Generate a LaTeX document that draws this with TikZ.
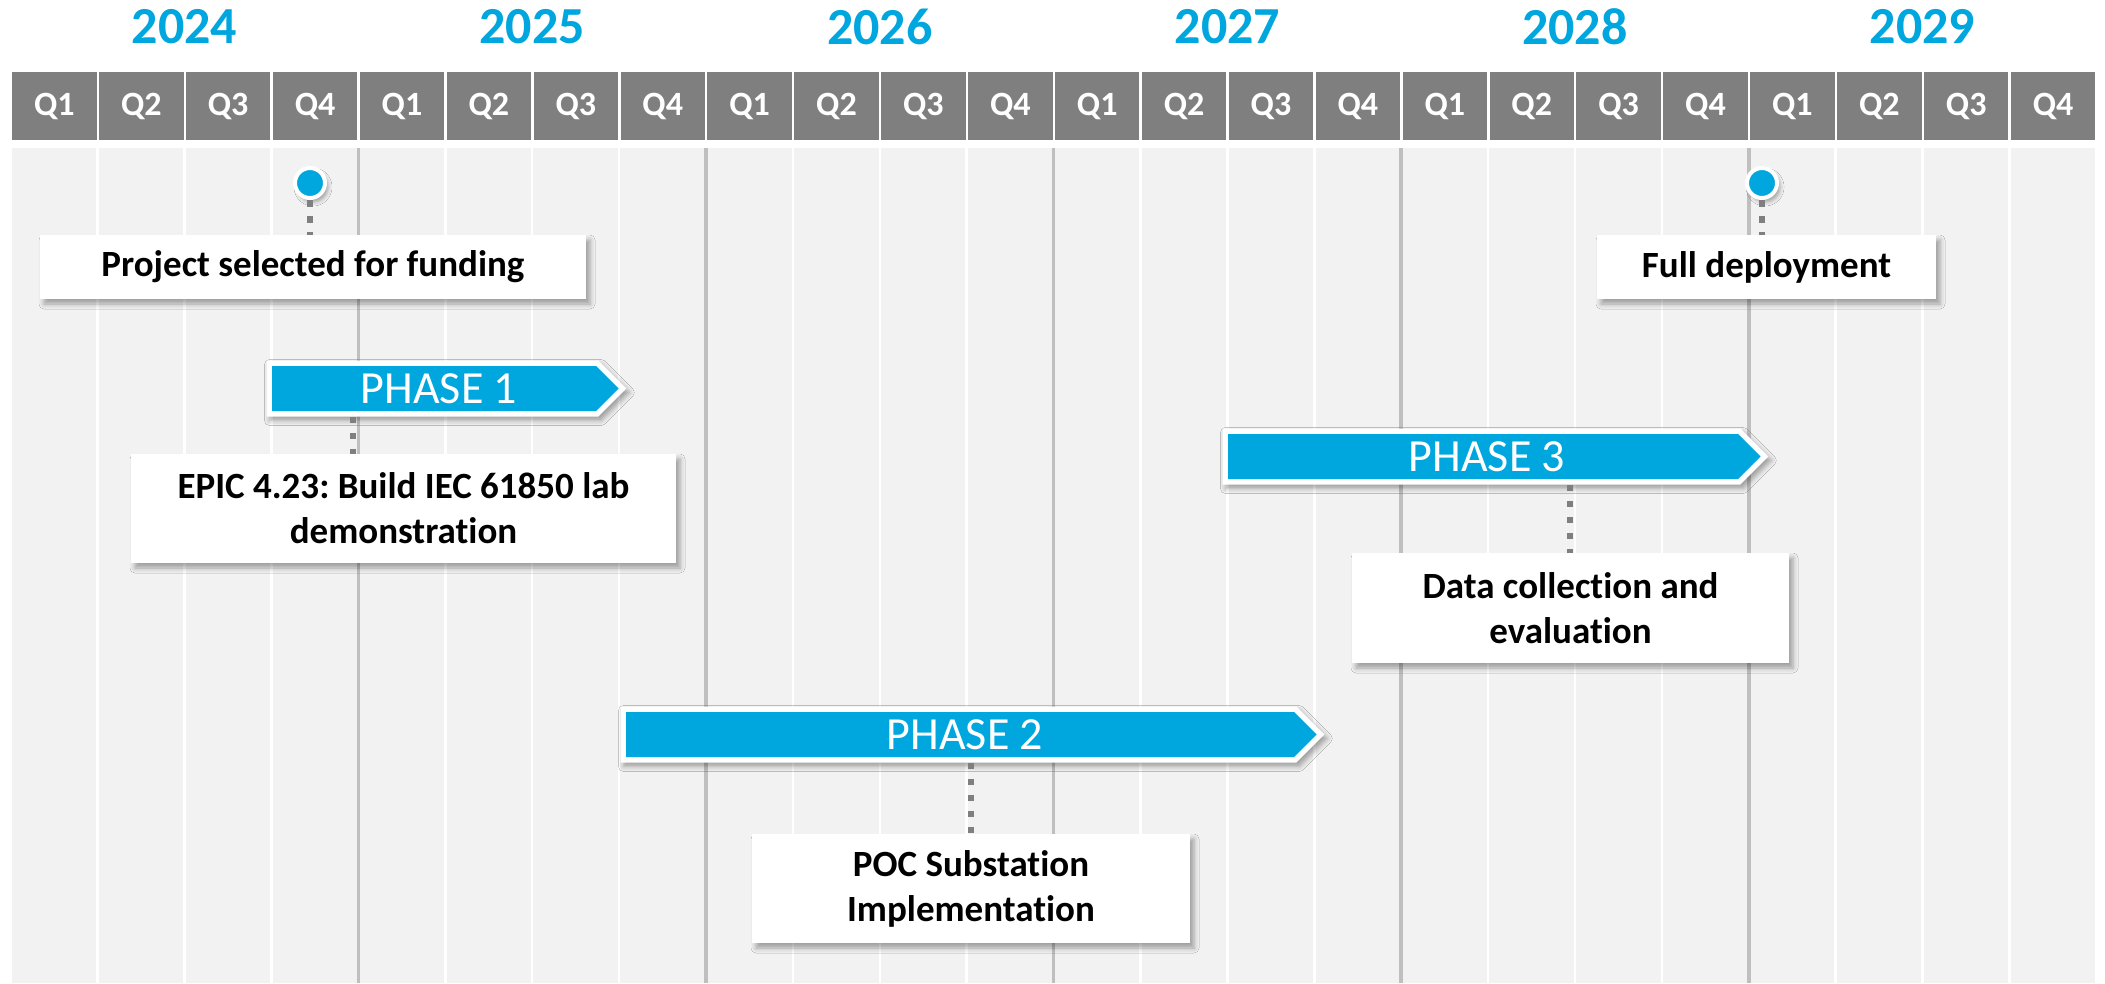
\documentclass[tikz,border=0pt]{standalone}
\usepackage{fontspec}
\setmainfont{Carlito}[Ligatures=NoCommon]
\usetikzlibrary{shadows.blur}
\frenchspacing
\definecolor{phaseblue}{RGB}{0,166,222}
\definecolor{hdrgrey}{RGB}{127,127,127}
\definecolor{bodygrey}{RGB}{242,242,242}
\definecolor{yeargrey}{RGB}{191,191,191}
\definecolor{dotgrey}{RGB}{127,127,127}
\newcommand\phasebar[6]{%
  \fill[white, blur shadow={shadow xshift=3pt, shadow yshift=-4pt, shadow blur radius=5pt, shadow opacity=35}]
    (#2-5.5,#4-28) -- (#3+2.3,#4-28) -- (#3+30.3,#4) -- (#3+2.3,#4+28) -- (#2-5.5,#4+28) -- cycle;
  \fill[phaseblue] (#2,#4-22.5) -- (#3,#4-22.5) -- (#3+22.5,#4) -- (#3,#4+22.5) -- (#2,#4+22.5) -- cycle;
  \node[phasetext, minimum height=56pt] (#1) at ({(#2+#3)/2+#6},#4) {#5};
}
\begin{document}
\begin{tikzpicture}[x=1pt,y=-1pt,
  qbox/.style={fill=hdrgrey, minimum width=84.4pt, minimum height=68pt, inner sep=0pt, text=white,
    font=\fontsize{34}{40}\selectfont\bfseries},
  ylabel/.style={text=phaseblue, font=\fontsize{52}{60}\selectfont\bfseries, inner sep=0pt},
  infobox/.style={fill=white, inner sep=0pt, align=center, font=\fontsize{37}{45}\selectfont\bfseries,
    blur shadow={shadow xshift=4pt, shadow yshift=-5pt, shadow blur radius=5pt, shadow opacity=35}},
  phasetext/.style={text=white, font=\fontsize{46}{50}\selectfont, inner sep=0pt},
  conn/.style={draw=dotgrey, line width=6.5pt, dash pattern=on 6.5pt off 9.5pt},
  milestone/.style={circle, fill=phaseblue, draw=white, line width=4pt, minimum size=30pt, inner sep=0pt,
    blur shadow={shadow xshift=3pt, shadow yshift=-4pt, shadow blur radius=4pt, shadow opacity=35}},
]
\useasboundingbox (0,0) rectangle (2105,983);
\fill[white] (0,0) rectangle (2105,983);
% columns and header
\foreach \i in {0,...,23} {
  \pgfmathsetmacro\qx{12+86.9*\i}
  \pgfmathtruncatemacro\qn{mod(\i,4)+1}
  \fill[bodygrey] (\qx,148) rectangle (\qx+84.4,983);
  \node[qbox, anchor=north west] (q\i) at (\qx,72) {Q\qn};
}
\foreach \k in {1,...,5} {
  \pgfmathsetmacro\lx{12+86.9*4*\k-1.25}
  \draw[yeargrey, line width=3.5pt] (\lx,148) -- (\lx,983);
}
\foreach \y [count=\k from 0] in {2024,2025,2026,2027,2028,2029} {
  \node[ylabel] (y\k) at ({12+86.9*(4*\k+2)-1.25},26.5) {\y};
}
% milestones
\node[milestone] (m1) at (310,183) {};
\node[milestone] (m2) at (1762,183) {};
% phase bars
\phasebar{p1}{272}{596}{388.5}{PHASE 1}{5}
\phasebar{p2}{626}{1294}{734.5}{PHASE 2}{5}
\phasebar{p3}{1228}{1738}{456.5}{PHASE 3}{4}
% boxes
\node[infobox, minimum width=546pt, minimum height=64pt] (b1) at (313,267) {Project selected for funding};
\node[infobox, minimum width=545pt, minimum height=109pt] (b2) at (403.5,508.5) {EPIC 4.23: Build IEC 61850 lab\\demonstration};
\node[infobox, minimum width=438pt, minimum height=109pt] (b3) at (971,888.5) {POC Substation\\Implementation};
\node[infobox, minimum width=437pt, minimum height=110pt] (b4) at (1570.5,608) {Data collection and\\evaluation};
\node[infobox, minimum width=339pt, minimum height=64pt] (b5) at (1766.5,267) {Full deployment};
% connectors
\coordinate (d1) at (353,0);
\coordinate (d2) at (971,0);
\coordinate (d3) at (1570,0);
\draw[conn] (m1.south) -- (b1.north -| m1);
\draw[conn] (m2.south) -- (b5.north -| m2);
\draw[conn] (p1.south -| d1) -- (b2.north -| d1);
\draw[conn] (p2.south -| d2) -- (b3.north -| d2);
\draw[conn] (p3.south -| d3) -- (b4.north -| d3);
\end{tikzpicture}
\end{document}
